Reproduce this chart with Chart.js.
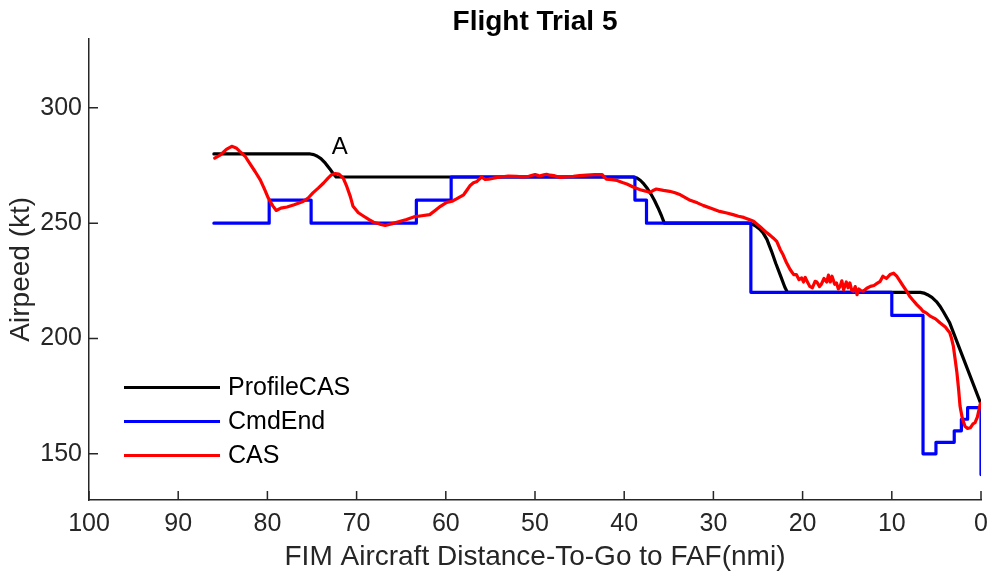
<!DOCTYPE html>
<html>
<head>
<meta charset="utf-8">
<script src="https://cdn.jsdelivr.net/npm/chart.js@4.4.0/dist/chart.umd.min.js"></script>
<style>
  body { margin: 0; background: #fff; }
  #wrap { width: 992px; height: 576px; }
</style>
</head>
<body>
<div id="wrap"><canvas id="myChart" width="992" height="576"></canvas></div>
<script>
// axis ticks
const xTicks = [0, 10, 20, 30, 40, 50, 60, 70, 80, 90, 100];
const yTicks = [150, 200, 250, 300];

// ProfileCAS (black)
const profileDist = [86, 75.2, 74.8, 74.4, 74, 73.5, 73, 72.6, 72.3, 39, 38.6, 38.2, 37.8, 37.4, 37, 36.6, 36.2, 35.8, 35.5,
  26, 25.6, 25.2, 24.8, 24.4, 24, 23.5, 23, 22.5, 22, 21.7, 6.8, 6.4, 6, 5.5, 5, 4.6, 4.2, 3.8, 3.5, 0];
const profileCas = [280, 280, 279.7, 279, 278, 276, 273.5, 271.3, 270, 270, 269.6, 268.6, 267, 265, 262.6, 259.8, 256.6, 253, 250,
  250, 249.5, 248.6, 247.4, 245.6, 243, 238, 232.5, 227.5, 222.3, 220, 220, 219.7, 219, 217.8, 216, 214, 211.5, 208.8, 206.7, 171.5];

// CmdEnd (blue, stepped)
const cmdDist = [86, 79.8, 75.1, 63.3, 59.4, 38.8, 37.5, 25.8, 10.0, 6.5, 5.05, 3.0, 2.2, 1.5, 0];
const cmdCas = [250, 260, 250, 260, 270, 260, 250, 220, 210, 150, 155, 160, 165, 170, 141];

// CAS (red)
const casDist = [85.9, 85.3, 84.6, 84.0, 83.5, 83.1, 82.5, 82.0, 81.4, 80.8, 80.3, 79.9, 79.4, 79.0, 78.5, 77.8, 77.0, 76.0,
  75.4, 74.9, 74.3, 73.7, 73.2, 72.8, 72.4, 72.0, 71.5, 71.1, 70.7, 70.4, 69.8, 69.2, 68.6, 68.1, 67.4, 66.8, 66.0,
  65.1, 64.4, 63.6, 62.7, 61.8, 61.2, 60.6, 59.9, 59.3, 58.8, 58.0, 57.6, 57.3, 56.9, 56.5, 56.0, 55.6, 55.2, 54.5,
  53.9, 53.0, 52.1, 51.4, 50.7, 50.0, 49.6, 49.4, 49.0, 48.7, 48.3, 47.9, 47.2, 46.4, 45.7, 45.0, 44.2, 43.3, 42.5,
  42.0, 41.4, 40.8, 40.2, 39.7, 39.0, 38.2, 37.6, 37.1, 36.7, 36.4, 35.6, 34.9, 34.3, 33.7, 33.1, 32.6, 31.8, 31.1,
  30.2, 29.3, 28.5, 27.8, 27.2, 26.6, 26.0, 25.5, 24.8, 24.0, 23.6, 23.3, 22.9, 22.5, 22.2, 21.8, 21.4, 21.0, 20.7,
  20.4, 20.1, 19.9, 19.7, 19.5, 19.2, 18.9, 18.6, 18.4, 18.1, 17.9, 17.6, 17.3, 17.1, 16.9, 16.7, 16.4, 16.2, 16.0,
  15.8, 15.6, 15.4, 15.1, 14.9, 14.7, 14.5, 14.3, 14.1, 13.9, 13.7, 13.5, 13.2, 12.8, 12.4, 12.0, 11.7, 11.3, 11.0,
  10.6, 10.2, 9.8, 9.45, 9.1, 8.7, 8.3, 8.0, 7.6, 7.2, 6.8, 6.5, 6.1, 5.7, 5.1, 4.6, 4.0, 3.5, 3.3, 3.1, 2.9, 2.7,
  2.5, 2.35, 2.1, 1.8, 1.5, 1.2, 0.9, 0.67, 0.4, 0.1, 0];
const casVals = [278.2, 279.5, 282, 283.3, 282.6, 281.1, 279, 276, 272.5, 268.8, 264.5, 260.9, 257.5, 255.5, 256.5, 257.0, 258, 259.4,
  261, 263.1, 265.2, 267.4, 269.5, 271, 271.5, 271.3, 269.5, 265.9, 261.5, 257.3, 254.5, 253, 251.5, 250.4, 249.6, 249, 249.8,
  250.8, 251.6, 252.7, 253.2, 253.7, 255.5, 257.3, 259, 259.5, 260.5, 262.3, 264.5, 266.2, 267.5, 268.1, 270, 269, 269.1, 269.6,
  270, 270.4, 270.3, 270.1, 270.3, 271.1, 270.6, 270.5, 271, 271.2, 270.8, 270.6, 269.8, 270.2, 270.3, 270.6, 270.8, 271, 271.1,
  269.1, 268.9, 268.5, 267.6, 267, 265.7, 264.5, 263.9, 263.3, 264.3, 264.8, 264.2, 263.8, 263.2, 262.3, 261, 259.9, 258.8, 257.6,
  256.4, 255.1, 254.4, 253.7, 253, 252.5, 251.6, 250.8, 248.6, 245.8, 244.6, 243.6, 242.1, 238.5, 236.4, 232.8, 229.9, 227.7, 227.7,
  225.5, 226.3, 224.5, 226.5, 224.8, 222.6, 222, 224.8, 224.5, 222.5, 223.5, 226, 224.5, 227.5, 224.5, 227, 223.5, 224.1, 221.5,
  222.5, 225, 221.2, 224.5, 222, 224.1, 221, 220.5, 222.5, 219.0, 221.5, 220.8, 220.5, 221.8, 222.6, 223, 223.8, 224.8, 227,
  226, 227.7, 228.3, 227, 225, 222.6, 220.3, 218.3, 216.5, 214.7, 213.2, 211.8, 211, 209.7, 208.5, 206.8, 205, 202.5, 200, 196.7, 191, 185.2,
  177.5, 170.7, 165.5, 162, 161, 161.3, 163, 163.5, 166, 171.4, 172];

const annotation = { dist: 71.9, cas: 282.7, text: 'A' };

const fontFamily = '"Liberation Sans", Arial, Helvetica, sans-serif';
const axisColor = '#262626';

const toPoints = (xs, ys) => xs.map((v, i) => ({ x: v, y: ys[i] }));

const decorations = {
  id: 'decorations',
  afterDatasetsDraw(chart) {
    const { ctx, chartArea, scales: { x, y } } = chart;
    ctx.save();
    // inward tick marks
    ctx.strokeStyle = axisColor;
    ctx.lineWidth = 1.5;
    ctx.beginPath();
    x.ticks.forEach(t => {
      const px = x.getPixelForValue(t.value);
      ctx.moveTo(px, chartArea.bottom);
      ctx.lineTo(px, chartArea.bottom - 9);
    });
    y.ticks.forEach(t => {
      const py = y.getPixelForValue(t.value);
      ctx.moveTo(chartArea.left, py);
      ctx.lineTo(chartArea.left + 9, py);
    });
    ctx.stroke();

    // "A" label
    ctx.fillStyle = '#000';
    ctx.font = '24px ' + fontFamily;
    ctx.textAlign = 'center';
    ctx.textBaseline = 'middle';
    ctx.fillText(annotation.text, x.getPixelForValue(annotation.dist), y.getPixelForValue(annotation.cas));

    // legend inside lower-left
    ctx.font = '25px ' + fontFamily;
    ctx.textAlign = 'left';
    chart.data.datasets.forEach((ds, i) => {
      const ly = chartArea.top + 349 + i * 34;
      ctx.strokeStyle = ds.borderColor;
      ctx.lineWidth = 3;
      ctx.beginPath();
      ctx.moveTo(chartArea.left + 35, ly);
      ctx.lineTo(chartArea.left + 131, ly);
      ctx.stroke();
      ctx.fillStyle = '#000';
      ctx.fillText(ds.label, chartArea.left + 139, ly + 1);
    });
    ctx.restore();
  }
};

new Chart(document.getElementById('myChart').getContext('2d'), {
  type: 'line',
  data: {
    datasets: [
      { label: 'ProfileCAS', data: toPoints(profileDist, profileCas), borderColor: '#000000', order: 3 },
      { label: 'CmdEnd', data: toPoints(cmdDist, cmdCas), borderColor: '#0000ff', stepped: true, order: 2 },
      { label: 'CAS', data: toPoints(casDist, casVals), borderColor: '#ff0000', order: 1 }
    ]
  },
  options: {
    responsive: false,
    animation: false,
    layout: { padding: { left: 0, right: 11, top: 0, bottom: 0 } },
    elements: {
      point: { radius: 0 },
      line: { borderWidth: 3.2, tension: 0, borderJoinStyle: 'round', borderCapStyle: 'round' }
    },
    plugins: {
      legend: { display: false },
      tooltip: { enabled: false },
      title: {
        display: true,
        text: 'Flight Trial 5',
        fullSize: false,
        color: '#000',
        font: { family: fontFamily, size: 28, weight: 'bold' },
        padding: { top: 5, bottom: 0 }
      }
    },
    scales: {
      x: {
        type: 'linear',
        reverse: true,
        min: 0,
        max: 100,
        afterBuildTicks: s => { s.ticks = xTicks.map(v => ({ value: v })); },
        afterFit: s => { s.height = 76; },
        grid: { display: false, drawTicks: false },
        border: { display: true, color: axisColor, width: 1.5 },
        ticks: { color: axisColor, padding: 9, maxRotation: 0, font: { family: fontFamily, size: 25 } },
        title: {
          display: true,
          text: 'FIM Aircraft Distance-To-Go to FAF(nmi)',
          color: axisColor,
          font: { family: fontFamily, size: 28 },
          padding: { top: 0, bottom: 2 }
        }
      },
      y: {
        min: 130,
        max: 330,
        afterBuildTicks: s => { s.ticks = yTicks.map(v => ({ value: v })); },
        afterFit: s => { s.width = 89; },
        grid: { display: false, drawTicks: false },
        border: { display: true, color: axisColor, width: 1.5 },
        ticks: { color: axisColor, padding: 7, font: { family: fontFamily, size: 25 } },
        title: {
          display: true,
          text: 'Airpeed (kt)',
          color: axisColor,
          font: { family: fontFamily, size: 28 },
          padding: { top: 4, bottom: 0 }
        }
      }
    }
  },
  plugins: [decorations]
});
</script>
</body>
</html>
